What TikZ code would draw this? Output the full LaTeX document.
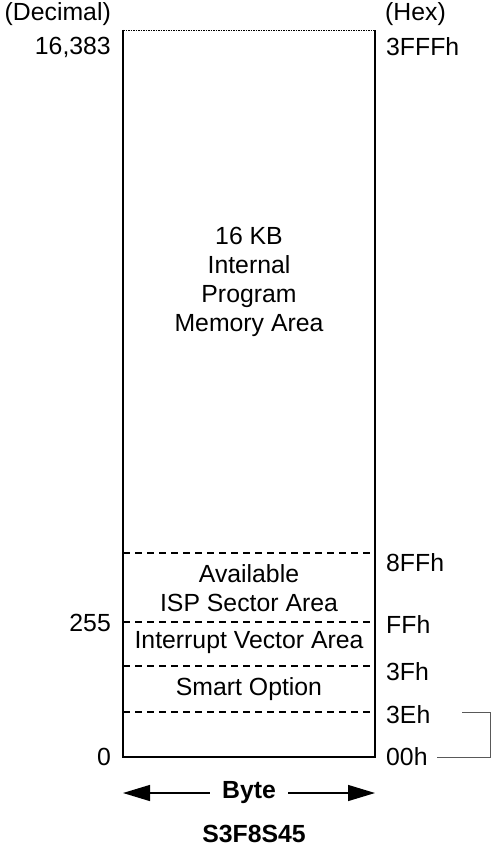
\documentclass[tikz,border=0pt]{standalone}
\usepackage{fontspec}
\setmainfont{Liberation Sans}
\usetikzlibrary{arrows.meta}
\begin{document}
\begin{tikzpicture}[x=1pt,y=-1pt,
  lbl/.style={inner sep=0pt,font=\fontsize{24.8}{29}\selectfont},
  rlbl/.style={lbl,anchor=west},
  llbl/.style={lbl,anchor=east},
  area/.style={lbl,align=center},
  sep/.style={line width=1.3pt,dash pattern=on 7pt off 5pt},
  bracketline/.style={line width=0.8pt,draw=black!65}]
\useasboundingbox (0,0) rectangle (491,848);
% box
\coordinate (tl) at (123,30);
\coordinate (tr) at (375,30);
\coordinate (bl) at (123,757);
\coordinate (br) at (375,757);
\draw[line width=0.6pt,dash pattern=on 1.5pt off 1pt] (tl) -- (tr);
\draw[line width=2pt] (tl) -- (bl) -- (br) -- (tr);
% separators
\coordinate (s1l) at (123,553); \coordinate (s1r) at (375,553);
\coordinate (s2l) at (123,622); \coordinate (s2r) at (375,622);
\coordinate (s3l) at (123,666); \coordinate (s3r) at (375,666);
\coordinate (s4l) at (123,712); \coordinate (s4r) at (375,712);
\draw[sep] (s1l) -- (s1r);
\draw[sep] (s2l) -- (s2r);
\draw[sep] (s3l) -- (s3r);
\draw[sep] (s4l) -- (s4r);
% area texts
\node[area] (main) at (249,282) {16 KB\\Internal\\Program\\Memory Area};
\node[area] (isp) at (249,588) {Available\\ISP Sector Area};
\node[area] (ivec) at (249,643) {Interrupt Vector Area};
\node[area] (smart) at (249,689) {Smart Option};
% left labels
\node[llbl] (dec) at (111,14) {(Decimal)};
\node[llbl] (d16383) at (111,47) {16,383};
\node[llbl] (d255) at (111,623) {255};
\node[llbl] (d0) at (111,757) {0};
% right labels
\node[rlbl] (hex) at (385,14) {(Hex)};
\node[rlbl] (h3fff) at (386,47) {3FFFh};
\node[rlbl] (h8ff) at (386,563) {8FFh};
\node[rlbl] (hff) at (386,625) {FFh};
\node[rlbl] (h3f) at (386,672) {3Fh};
\node[rlbl] (h3e) at (386,715) {3Eh};
\node[rlbl] (h00) at (386,757) {00h};
% bracket
\coordinate (b1) at (462,712);
\coordinate (b2) at (490,712);
\coordinate (b3) at (490,757);
\coordinate (b4) at (437,757);
\draw[bracketline] (b1) -- (b2) -- (b3) -- (b4);
% byte arrow
\node[lbl,font=\fontsize{24.8}{29}\selectfont\bfseries,inner xsep=12pt] (byte) at (249,793) {Byte};
\coordinate (al) at (123,793);
\coordinate (ar) at (375,793);
\draw[line width=1.3pt,-{Triangle[length=27pt,width=16pt]}] (byte.west) -- (al);
\draw[line width=1.3pt,-{Triangle[length=27pt,width=16pt]}] (byte.east) -- (ar);
\node[lbl,font=\fontsize{24.8}{29}\selectfont\bfseries] (chip) at (254,834) {S3F8S45};
\end{tikzpicture}
\end{document}
